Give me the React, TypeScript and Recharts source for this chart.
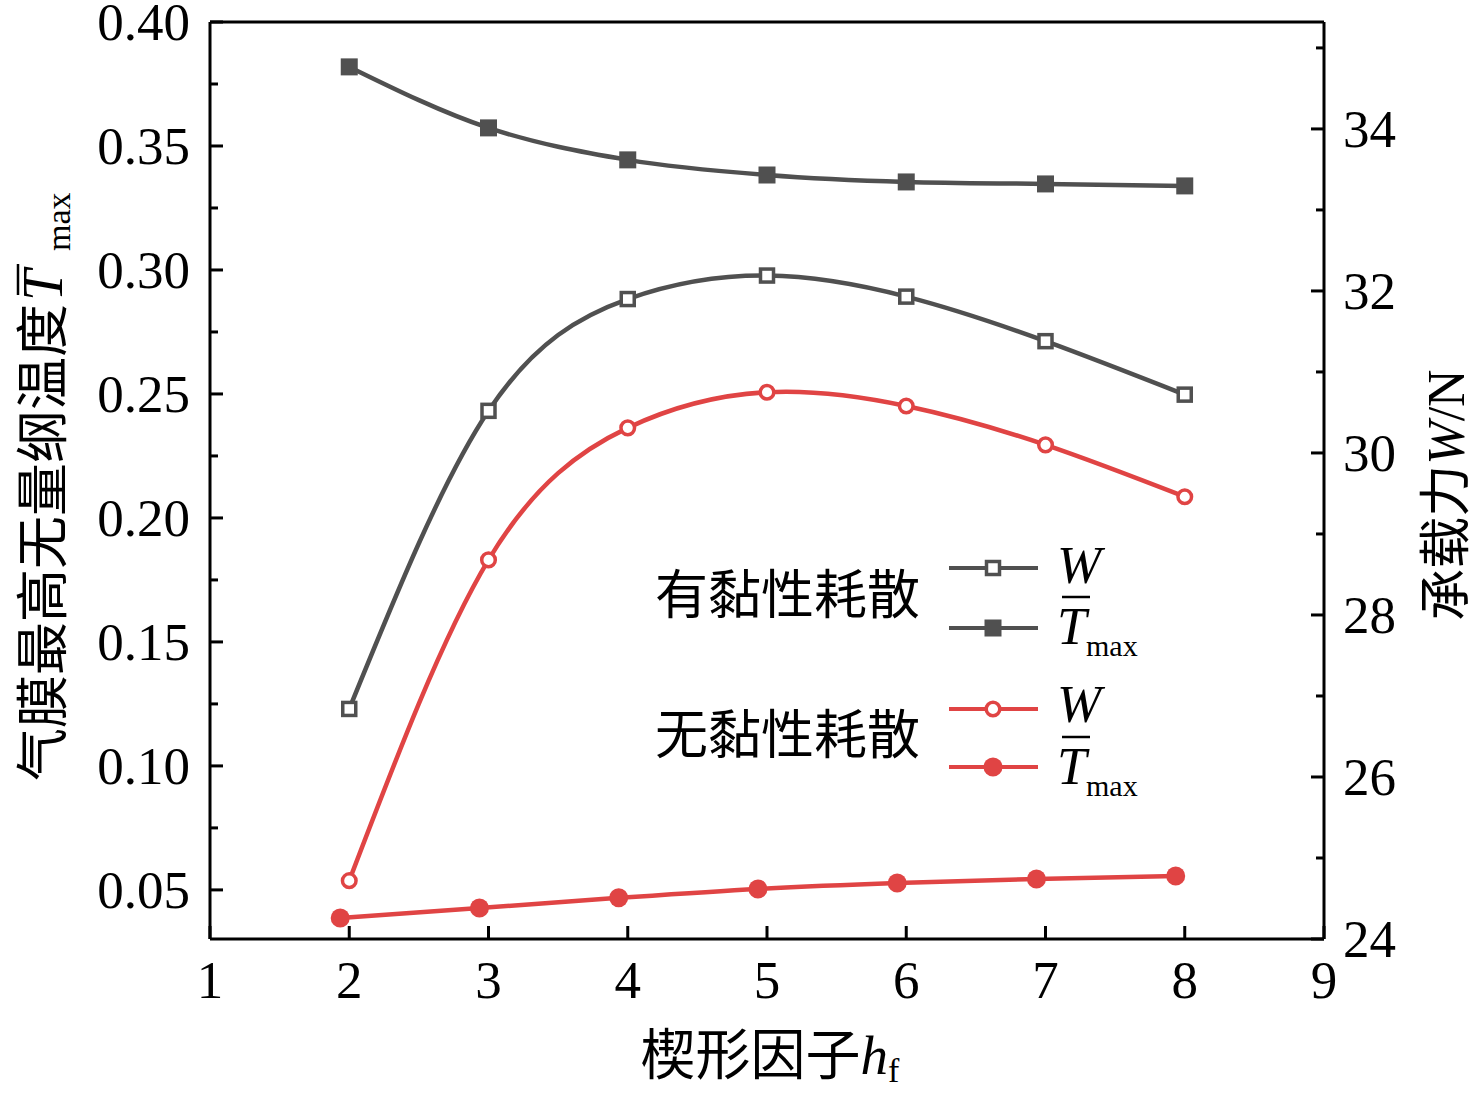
import { LineChart, Line, XAxis, YAxis, ReferenceLine } from 'recharts';

// wedge factor h_f
const hf = [2, 3, 4, 5, 6, 7, 8];
// the inviscid T_max markers sit slightly left of the integer positions
const hfInviscidT = [1.935, 2.935, 3.935, 4.935, 5.935, 6.935, 7.935];

// with viscous dissipation
const viscousW = [26.84, 30.52, 31.9, 32.19, 31.93, 31.38, 30.72];
const viscousT = [0.3819, 0.3573, 0.3444, 0.3383, 0.3355, 0.3347, 0.3339];
// without viscous dissipation
const inviscidW = [24.72, 28.68, 30.31, 30.75, 30.58, 30.1, 29.46];
const inviscidT = [0.0387, 0.0427, 0.0468, 0.0504, 0.0528, 0.0544, 0.0556];

const xTicks = [1, 2, 3, 4, 5, 6, 7, 8, 9];
const leftTicks = [
  0.05, 0.075, 0.1, 0.125, 0.15, 0.175, 0.2, 0.225, 0.25, 0.275, 0.3, 0.325, 0.35, 0.375, 0.4,
];
const rightTicks = [24, 25, 26, 27, 28, 29, 30, 31, 32, 33, 34, 35];

const GREY = '#505050';
const RED = '#e04444';
const SERIF = '"Liberation Serif", "Noto Sans CJK SC", serif';
const FS = 53;

const toPoints = (xs: number[], ys: number[]) => xs.map((x, i) => ({ x, y: ys[i] }));

const OpenSquare = ({ cx, cy }: { cx: number; cy: number }) => (
  <rect x={cx - 6.5} y={cy - 6.5} width={13} height={13} fill="#fff" stroke={GREY} strokeWidth={3.5} />
);
const FilledSquare = ({ cx, cy }: { cx: number; cy: number }) => (
  <rect x={cx - 8.5} y={cy - 8.5} width={17} height={17} fill={GREY} />
);
const OpenCircle = ({ cx, cy }: { cx: number; cy: number }) => (
  <circle cx={cx} cy={cy} r={6.8} fill="#fff" stroke={RED} strokeWidth={3.5} />
);
const FilledCircle = ({ cx, cy }: { cx: number; cy: number }) => (
  <circle cx={cx} cy={cy} r={9.5} fill={RED} />
);

const isMajor = (v: number, step: number) => Math.abs(v / step - Math.round(v / step)) < 1e-6;

function LeftTick({ x, y, payload }: any) {
  const major = isMajor(payload.value, 0.05);
  return (
    <g>
      <line x1={x} x2={x + (major ? 13 : 8)} y1={y} y2={y} stroke="#000" strokeWidth={3} />
      {major && (
        <text x={x - 20} y={y + 18} textAnchor="end" fontFamily={SERIF} fontSize={FS} fill="#000">
          {payload.value.toFixed(2)}
        </text>
      )}
    </g>
  );
}

function RightTick({ x, y, payload }: any) {
  const major = payload.value % 2 === 0;
  return (
    <g>
      <line x1={x} x2={x - (major ? 13 : 8)} y1={y} y2={y} stroke="#000" strokeWidth={3} />
      {major && (
        <text x={x + 19} y={y + 18} textAnchor="start" fontFamily={SERIF} fontSize={FS} fill="#000">
          {payload.value}
        </text>
      )}
    </g>
  );
}

function BottomTick({ x, y, payload }: any) {
  return (
    <g>
      <line x1={x} x2={x} y1={y} y2={y - 13} stroke="#000" strokeWidth={3} />
      <text x={x} y={y + 59} textAnchor="middle" fontFamily={SERIF} fontSize={FS} fill="#000">
        {payload.value}
      </text>
    </g>
  );
}

const renderXLabel = () => (
  <text x={770} y={1074} textAnchor="middle" fontFamily={SERIF} fontSize={55} fill="#000">
    楔形因子
    <tspan fontStyle="italic">h</tspan>
    <tspan fontSize={34} dy={8}>f</tspan>
  </text>
);

const renderLeftLabel = () => (
  <g transform="translate(62, 304) rotate(-90)">
    <text x={0} y={0} textAnchor="end" fontFamily={SERIF} fontSize={FS} fill="#000">
      气膜最高无量纲温度
    </text>
    <text x={3} y={0} fontFamily={SERIF} fontSize={56} fontStyle="italic" fill="#000">
      T
    </text>
    <line x1={9} x2={40} y1={-44} y2={-44} stroke="#000" strokeWidth={2.5} />
    <text x={53} y={8} fontFamily={SERIF} fontSize={34} fill="#000">
      max
    </text>
  </g>
);

const renderRightLabel = () => (
  <g transform="translate(1464, 495) rotate(-90)">
    <text x={0} y={0} textAnchor="middle" fontFamily={SERIF} fontSize={52} fill="#000">
      承载力<tspan fontStyle="italic">W</tspan>/N
    </text>
  </g>
);

function LegendRow({ y, color, dot }: { y: number; color: string; dot: React.ReactNode }) {
  return (
    <g>
      <line x1={949} x2={1038} y1={y} y2={y} stroke={color} strokeWidth={4} />
      {dot}
    </g>
  );
}

function TmaxLabel({ y }: { y: number }) {
  return (
    <g>
      <text x={1057} y={y} fontFamily={SERIF} fontSize={FS} fontStyle="italic" fill="#000">
        T
      </text>
      <line x1={1062} x2={1090} y1={y - 47} y2={y - 47} stroke="#000" strokeWidth={2.5} />
      <text x={1086} y={y + 12} fontFamily={SERIF} fontSize={30} fill="#000">
        max
      </text>
    </g>
  );
}

function ChartLegend() {
  return (
    <svg
      width={1476}
      height={1093}
      style={{ position: 'absolute', left: 0, top: 0, pointerEvents: 'none' }}
    >
      <text x={655} y={614} fontFamily={SERIF} fontSize={FS} fill="#000">
        有黏性耗散
      </text>
      <text x={655} y={754} fontFamily={SERIF} fontSize={FS} fill="#000">
        无黏性耗散
      </text>
      <LegendRow y={568} color={GREY} dot={<OpenSquare cx={993} cy={568} />} />
      <LegendRow y={628} color={GREY} dot={<FilledSquare cx={993} cy={628} />} />
      <LegendRow y={709} color={RED} dot={<OpenCircle cx={993} cy={709} />} />
      <LegendRow y={767} color={RED} dot={<FilledCircle cx={993} cy={767} />} />
      <text x={1057} y={583} fontFamily={SERIF} fontSize={FS} fontStyle="italic" fill="#000">
        W
      </text>
      <TmaxLabel y={644} />
      <text x={1057} y={722} fontFamily={SERIF} fontSize={FS} fontStyle="italic" fill="#000">
        W
      </text>
      <TmaxLabel y={784} />
    </svg>
  );
}

export default function App() {
  return (
    <div style={{ position: 'absolute', left: 0, top: 0, width: 1476, height: 1093, background: '#fff' }}>
      <LineChart width={1476} height={1093} margin={{ top: 22, right: 0, bottom: 0, left: 0 }}>
        <XAxis
          dataKey="x"
          type="number"
          domain={[1, 9]}
          ticks={xTicks}
          height={154}
          tickSize={0}
          tickMargin={0}
          tickLine={false}
          axisLine={{ stroke: '#000', strokeWidth: 3 }}
          tick={<BottomTick />}
          allowDuplicatedCategory={false}
          label={renderXLabel}
        />
        <YAxis
          yAxisId="left"
          orientation="left"
          type="number"
          domain={[0.0302, 0.4]}
          allowDataOverflow
          ticks={leftTicks}
          width={210}
          tickSize={0}
          tickMargin={0}
          tickLine={false}
          axisLine={{ stroke: '#000', strokeWidth: 3 }}
          tick={<LeftTick />}
          label={renderLeftLabel}
        />
        <YAxis
          yAxisId="right"
          orientation="right"
          type="number"
          domain={[24, 35.32]}
          allowDataOverflow
          ticks={rightTicks}
          width={152}
          tickSize={0}
          tickMargin={0}
          tickLine={false}
          axisLine={{ stroke: '#000', strokeWidth: 3 }}
          tick={<RightTick />}
          label={renderRightLabel}
        />
        <ReferenceLine yAxisId="left" y={0.4} stroke="#000" strokeWidth={3} />

        <Line
          yAxisId="right"
          data={toPoints(hf, viscousW)}
          dataKey="y"
          type="natural"
          stroke={GREY}
          strokeWidth={4.5}
          dot={(p: any) => <OpenSquare key={p.index} cx={p.cx} cy={p.cy} />}
          activeDot={false}
          isAnimationActive={false}
        />
        <Line
          yAxisId="left"
          data={toPoints(hf, viscousT)}
          dataKey="y"
          type="monotone"
          stroke={GREY}
          strokeWidth={4.5}
          dot={(p: any) => <FilledSquare key={p.index} cx={p.cx} cy={p.cy} />}
          activeDot={false}
          isAnimationActive={false}
        />
        <Line
          yAxisId="right"
          data={toPoints(hf, inviscidW)}
          dataKey="y"
          type="natural"
          stroke={RED}
          strokeWidth={4.5}
          dot={(p: any) => <OpenCircle key={p.index} cx={p.cx} cy={p.cy} />}
          activeDot={false}
          isAnimationActive={false}
        />
        <Line
          yAxisId="left"
          data={toPoints(hfInviscidT, inviscidT)}
          dataKey="y"
          type="monotone"
          stroke={RED}
          strokeWidth={4.5}
          dot={(p: any) => <FilledCircle key={p.index} cx={p.cx} cy={p.cy} />}
          activeDot={false}
          isAnimationActive={false}
        />
      </LineChart>
      <ChartLegend />
    </div>
  );
}
